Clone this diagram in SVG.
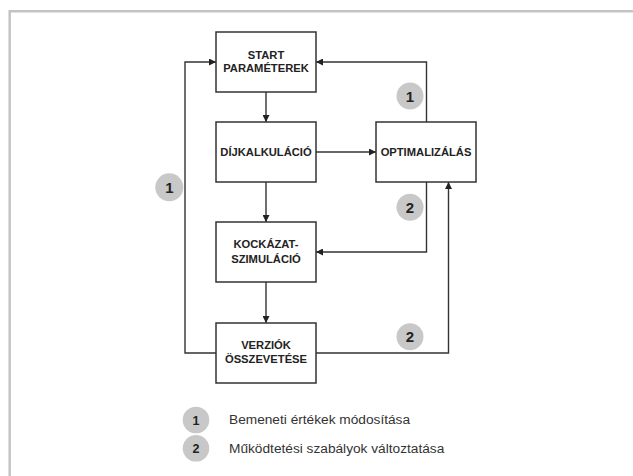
<svg xmlns="http://www.w3.org/2000/svg" width="633" height="476" viewBox="0 0 633 476">
<style>
.box{fill:#fff;stroke:#333;stroke-width:1.5}
.lbl{font-family:"Liberation Sans",Arial,sans-serif;font-weight:bold;font-size:11.2px;fill:#222;text-anchor:middle}
.con{fill:none;stroke:#333;stroke-width:1.4}
.badge{fill:#c8c8c8}
.num{font-family:"Liberation Sans",Arial,sans-serif;font-weight:bold;font-size:15px;fill:#222;text-anchor:middle}
.lnum{font-family:"Liberation Sans",Arial,sans-serif;font-weight:bold;font-size:12.5px;fill:#222;text-anchor:middle}
.leg{font-family:"Liberation Sans",Arial,sans-serif;font-size:13.7px;fill:#333}
</style>
<defs>
<marker id="arr" viewBox="0 0 10 10" refX="10" refY="5" markerWidth="7" markerHeight="7" markerUnits="userSpaceOnUse" orient="auto">
<path d="M0,0 L10,5 L0,10 Z" fill="#222"/>
</marker>
</defs>
<rect width="633" height="476" fill="#fff"/>
<path d="M9.7,476 V11.3 H633" fill="none" stroke="#c4c4c4" stroke-width="2.5"/>
<g id="connectors">
<path class="con" d="M266,92 V122" marker-end="url(#arr)"/>
<path class="con" d="M316,152 H376" marker-end="url(#arr)"/>
<path class="con" d="M266,182 V222" marker-end="url(#arr)"/>
<path class="con" d="M266,282 V323" marker-end="url(#arr)"/>
<path class="con" d="M216,353 H185 V62 H216" marker-end="url(#arr)"/>
<path class="con" d="M426.5,122 V62 H316" marker-end="url(#arr)"/>
<path class="con" d="M426.5,182 V252 H316" marker-end="url(#arr)"/>
<path class="con" d="M316,353 H448.5 V182" marker-end="url(#arr)"/>
</g>
<g id="start">
<rect class="box" x="216" y="32" width="100" height="60"/>
<text class="lbl" x="266" y="58.5">START</text>
<text class="lbl" x="266" y="72">PARAMÉTEREK</text>
</g>
<g id="dij">
<rect class="box" x="216" y="122" width="100" height="60"/>
<text class="lbl" x="266" y="156">DÍJKALKULÁCIÓ</text>
</g>
<g id="optim">
<rect class="box" x="376" y="122" width="100" height="60"/>
<text class="lbl" x="426" y="156">OPTIMALIZÁLÁS</text>
</g>
<g id="kock">
<rect class="box" x="216" y="222" width="100" height="60"/>
<text class="lbl" x="266" y="248">KOCKÁZAT-</text>
<text class="lbl" x="266" y="262.5">SZIMULÁCIÓ</text>
</g>
<g id="verz">
<rect class="box" x="216" y="323" width="100" height="60"/>
<text class="lbl" x="266" y="349">VERZIÓK</text>
<text class="lbl" x="266" y="362.7">ÖSSZEVETÉSE</text>
</g>
<g id="badge-top1">
<circle class="badge" cx="410" cy="96" r="13.5"/>
<text class="num" x="410" y="101.5">1</text>
</g>
<g id="badge-mid2">
<circle class="badge" cx="410" cy="207.3" r="13.5"/>
<text class="num" x="410" y="212.8">2</text>
</g>
<g id="badge-low2">
<circle class="badge" cx="410" cy="336.7" r="13.5"/>
<text class="num" x="410" y="342.2">2</text>
</g>
<g id="badge-left1">
<circle class="badge" cx="169.3" cy="187.3" r="14"/>
<text class="num" x="169.3" y="192.8">1</text>
</g>
<g id="legend">
<circle class="badge" cx="196" cy="420" r="13.3"/>
<text class="lnum" x="196" y="424.5">1</text>
<text class="leg" x="229" y="424.3">Bemeneti értékek módosítása</text>
<circle class="badge" cx="196" cy="448.3" r="13.3"/>
<text class="lnum" x="196" y="452.8">2</text>
<text class="leg" x="229" y="452.5">Működtetési szabályok változtatása</text>
</g>
</svg>
